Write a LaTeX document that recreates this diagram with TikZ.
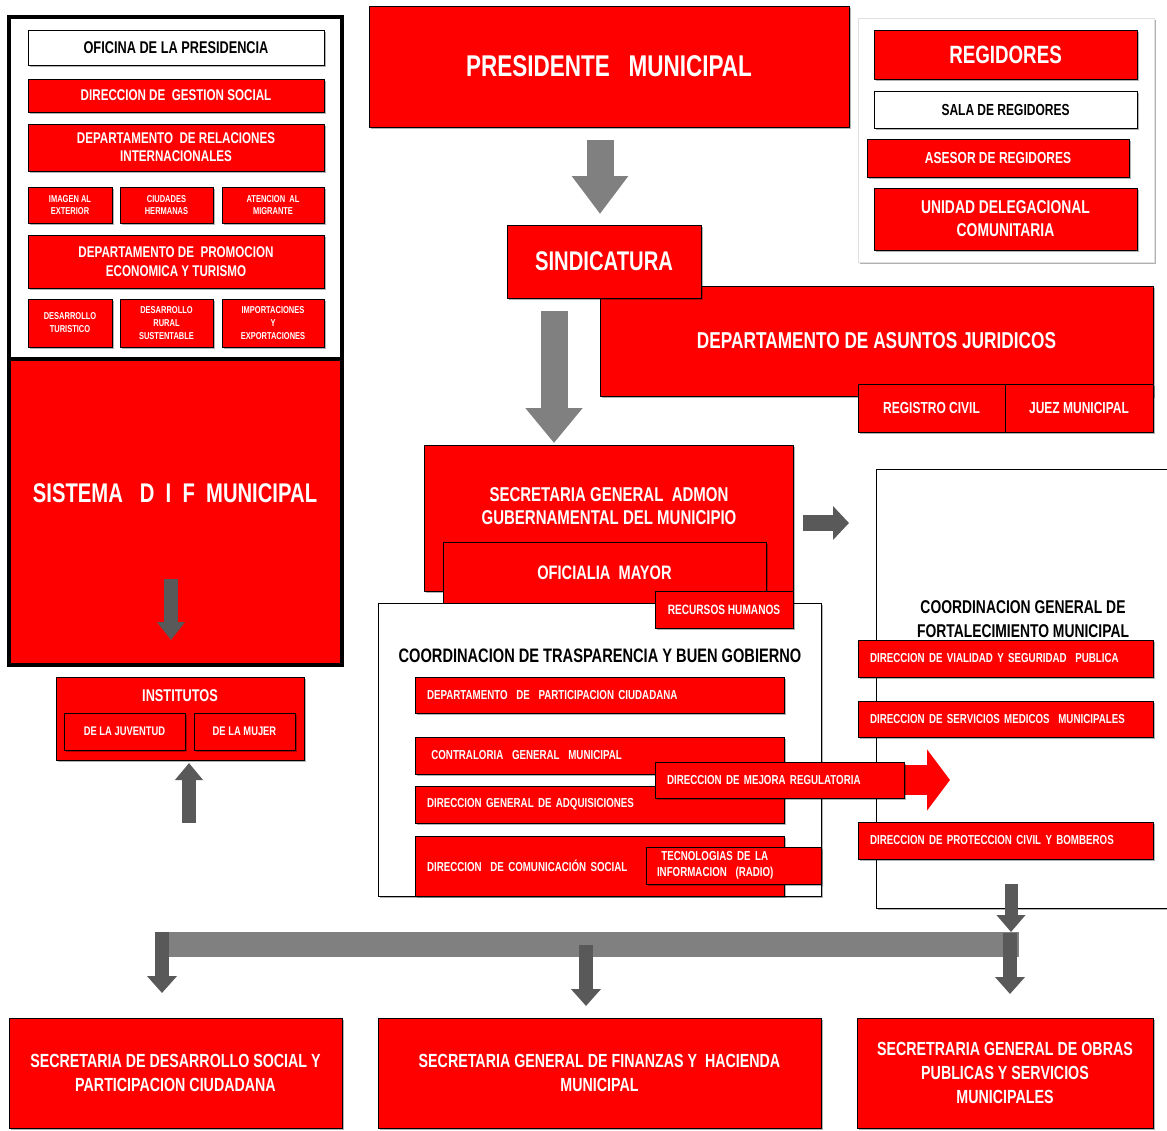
\documentclass[tikz,border=0pt]{standalone}
\usepackage{fontspec}
\setmainfont{Liberation Sans}[FakeStretch=0.75]
\usetikzlibrary{arrows.meta,shadows}
\definecolor{mred}{RGB}{255,0,0}
\definecolor{ga}{RGB}{128,128,128}
\definecolor{gb}{RGB}{89,89,89}
\newcommand\bx[7]{\node[#1,minimum width={(#5)-(#3)},minimum height={(#6)-(#4)}] (#2) at ({((#3)+(#5))/2},{((#4)+(#6))/2}) {#7};}
\newcommand\fz[2]{\fontsize{#1}{#2}\selectfont\bfseries}
\tikzset{
  sh/.style={drop shadow={shadow xshift=2pt,shadow yshift=-2pt,opacity=0.3,fill=black}},
  rb/.style={draw=black,line width=0.8pt,fill=mred,text=white,inner sep=0pt,align=center,sh},
  wb/.style={draw=black,line width=0.8pt,fill=white,text=black,inner sep=0pt,align=center,sh},
  lbl/.style={inner sep=0pt,align=center},
  lft/.style={align=left,text width=#1},
  blk/.style n args={4}{draw=#1,line width=#2,-{Triangle[width=#3,length=#4]}},
}
\begin{document}
\begin{tikzpicture}[x=1pt,y=-1pt]
\useasboundingbox (0,0) rectangle (1167,1130);
\fill[white] (0,0) rectangle (1167,1130);
% ---------- left panel ----------
\bx{draw=black,line width=3.5pt,fill=white,inner sep=0pt,sh}{ofipanel}{9}{17}{342}{359}{}
\bx{draw=black,line width=3.5pt,fill=mred,inner sep=0pt,sh}{dif}{9}{359}{342}{665}{}
\node[lbl,text=white,font=\fz{27}{30}] (diftxt) at (175,493) {SISTEMA \ \ D \ I \ F \ MUNICIPAL};
\bx{wb,font=\fz{17}{19}}{ofi}{28}{30}{324}{65}{OFICINA DE LA PRESIDENCIA}
\bx{rb,font=\fz{15.5}{18}}{gest}{28}{79}{324}{112}{DIRECCION DE \ GESTION SOCIAL}
\bx{rb,font=\fz{15.5}{18}}{relint}{28}{124}{324}{171}{DEPARTAMENTO \ DE RELACIONES\\INTERNACIONALES}
\bx{rb,font=\fz{10}{12.5}}{img}{28}{187}{112}{223}{IMAGEN AL\\EXTERIOR}
\bx{rb,font=\fz{10}{12.5}}{ciu}{120}{187}{213}{223}{CIUDADES\\HERMANAS}
\bx{rb,font=\fz{10}{12.5}}{mig}{222}{187}{324}{223}{ATENCION \ AL\\MIGRANTE}
\bx{rb,font=\fz{15.5}{19}}{prom}{28}{235}{324}{288}{DEPARTAMENTO DE \ PROMOCION\\ECONOMICA Y TURISMO}
\bx{rb,font=\fz{10}{13}}{tur}{28}{299}{112}{347}{DESARROLLO\\TURISTICO}
\bx{rb,font=\fz{10}{13}}{rur}{120}{299}{213}{347}{DESARROLLO\\RURAL\\SUSTENTABLE}
\bx{rb,font=\fz{10}{13}}{imp}{222}{299}{324}{347}{IMPORTACIONES\\Y\\EXPORTACIONES}
% institutos
\bx{rb}{inst}{56}{677}{304}{760}{}
\node[lbl,text=white,font=\fz{17}{20}] (insttxt) at (180,696) {INSTITUTOS};
\bx{rb,font=\fz{12.5}{15}}{juv}{64}{713}{185}{750}{DE LA JUVENTUD}
\bx{rb,font=\fz{12.5}{15}}{muj}{194}{713}{295}{750}{DE LA MUJER}
% ---------- top centre ----------
\bx{rb,font=\fz{30}{34}}{pres}{369}{6}{849}{127}{PRESIDENTE \ \ MUNICIPAL}
\bx{rb,font=\fz{23}{27}}{jur}{600}{286}{1153}{396}{DEPARTAMENTO DE ASUNTOS JURIDICOS}
\bx{rb,font=\fz{27}{30}}{sind}{507}{225}{701}{298}{SINDICATURA}
\bx{rb,font=\fz{16}{19}}{regciv}{858}{384}{1005}{432}{REGISTRO CIVIL}
\bx{rb,font=\fz{16}{19}}{juez}{1005}{384}{1153}{432}{JUEZ MUNICIPAL}
% ---------- regidores panel ----------
\bx{draw=black!12,line width=0.6pt,fill=white,inner sep=0pt,sh}{regpanel}{858}{18}{1154}{262}{}
\bx{rb,font=\fz{25}{28}}{reg}{874}{30}{1137}{79}{REGIDORES}
\bx{wb,font=\fz{16}{19}}{sala}{874}{91}{1137}{128}{SALA DE REGIDORES}
\bx{rb,font=\fz{16}{19}}{ases}{867}{139}{1129}{177}{ASESOR DE REGIDORES}
\bx{rb,font=\fz{18.5}{23}}{unid}{874}{188}{1137}{250}{UNIDAD DELEGACIONAL\\COMUNITARIA}
% ---------- fortalecimiento (behind) ----------
\bx{draw=black,line width=1pt,fill=white,inner sep=0pt,sh}{fort}{876}{469}{1185}{908}{}
\node[lbl,text=black,font=\fz{18.5}{24}] (forttxt) at (1023,619) {COORDINACION GENERAL DE\\FORTALECIMIENTO MUNICIPAL};
\bx{rb,font=\fz{13}{16},lft=271}{vial}{858}{640}{1153}{677}{DIRECCION DE VIALIDAD Y SEGURIDAD \ PUBLICA}
\bx{rb,font=\fz{13}{16},lft=271}{med}{858}{701}{1153}{737}{DIRECCION DE SERVICIOS MEDICOS \ MUNICIPALES}
\bx{rb,font=\fz{13}{16},lft=271}{prot}{858}{822}{1153}{859}{DIRECCION DE PROTECCION CIVIL Y BOMBEROS}
% ---------- secretaria admon ----------
\bx{rb}{sec}{424}{445}{793}{591}{}
\node[lbl,text=white,font=\fz{20}{23}] (sectxt) at (609,506) {SECRETARIA GENERAL \ ADMON\\GUBERNAMENTAL DEL MUNICIPIO};
\bx{rb,font=\fz{19.5}{22}}{ofm}{443}{542}{766}{603}{OFICIALIA \ MAYOR}
\bx{draw=black,line width=1pt,fill=white,inner sep=0pt,sh}{trasp}{378}{603}{821}{896}{}
\node[lbl,text=black,font=\fz{19.5}{22}] (trasptxt) at (600,656) {COORDINACION DE TRASPARENCIA Y BUEN GOBIERNO};
\bx{rb,font=\fz{13.5}{16}}{rh}{655}{591}{793}{628}{RECURSOS HUMANOS}
\bx{rb,font=\fz{13}{16},lft=345}{part}{415}{677}{784}{713}{DEPARTAMENTO \ DE \ PARTICIPACION CIUDADANA}
\bx{rb,font=\fz{13}{16},lft=345}{cont}{415}{737}{784}{774}{\ CONTRALORIA \ GENERAL \ MUNICIPAL}
\bx{rb,font=\fz{13}{16},lft=345}{adq}{415}{786}{784}{823}{DIRECCION GENERAL DE ADQUISICIONES}
\coordinate (ms) at (894,780);
\coordinate (me) at (950,780);
\draw[blk={mred}{30pt}{60pt}{23pt}] (ms) -- (me);
\bx{rb,font=\fz{13}{16},lft=225}{mej}{655}{762}{904}{798}{DIRECCION DE MEJORA REGULATORIA}
\bx{rb,font=\fz{13}{16},lft=345}{com}{415}{836}{784}{896}{DIRECCION \ DE COMUNICACIÓN SOCIAL}
\bx{rb,font=\fz{13}{16},lft=153}{tec}{646}{847}{821}{884}{\ TECNOLOGIAS DE LA\\INFORMACION \ (RADIO)}
% ---------- bottom ----------
\bx{rb,font=\fz{19}{24}}{sds}{9}{1018}{342}{1128}{SECRETARIA DE DESARROLLO SOCIAL Y\\PARTICIPACION CIUDADANA}
\bx{rb,font=\fz{19}{24}}{fin}{378}{1018}{821}{1128}{SECRETARIA GENERAL DE FINANZAS Y \ HACIENDA\\MUNICIPAL}
\bx{rb,font=\fz{19}{24}}{obr}{857}{1018}{1153}{1128}{SECRETRARIA GENERAL DE OBRAS\\PUBLICAS Y SERVICIOS\\MUNICIPALES}
% ---------- arrows ----------
\coordinate (a1s) at (600,140); \coordinate (a1e) at (600,214);
\draw[blk={ga}{27pt}{54pt}{38pt}] (a1s) -- (a1e);
\coordinate (a2s) at (554,311); \coordinate (a2e) at (554,443);
\draw[blk={ga}{27pt}{55pt}{35pt}] (a2s) -- (a2e);
\coordinate (a3s) at (171,579); \coordinate (a3e) at (171,640);
\draw[blk={gb}{14pt}{27pt}{18pt}] (a3s) -- (a3e);
\coordinate (a4s) at (189,823); \coordinate (a4e) at (189,763);
\draw[blk={gb}{14pt}{27pt}{17pt}] (a4s) -- (a4e);
\coordinate (a5s) at (803,523); \coordinate (a5e) at (849,523);
\draw[blk={gb}{16pt}{33pt}{16pt}] (a5s) -- (a5e);
\coordinate (bl) at (155,944.5); \coordinate (br) at (1019,944.5);
\draw[draw=ga,line width=25pt] (bl) -- (br);
\coordinate (a6s) at (1011,884); \coordinate (a6e) at (1011,932);
\draw[blk={gb}{13pt}{28pt}{17pt}] (a6s) -- (a6e);
\coordinate (a7s) at (162,932); \coordinate (a7e) at (162,993);
\draw[blk={gb}{14pt}{29pt}{17pt}] (a7s) -- (a7e);
\coordinate (a8s) at (586,945); \coordinate (a8e) at (586,1006);
\draw[blk={gb}{14pt}{29pt}{17pt}] (a8s) -- (a8e);
\coordinate (a9s) at (1010,933); \coordinate (a9e) at (1010,994);
\draw[blk={gb}{14pt}{29pt}{17pt}] (a9s) -- (a9e);
\end{tikzpicture}
\end{document}
